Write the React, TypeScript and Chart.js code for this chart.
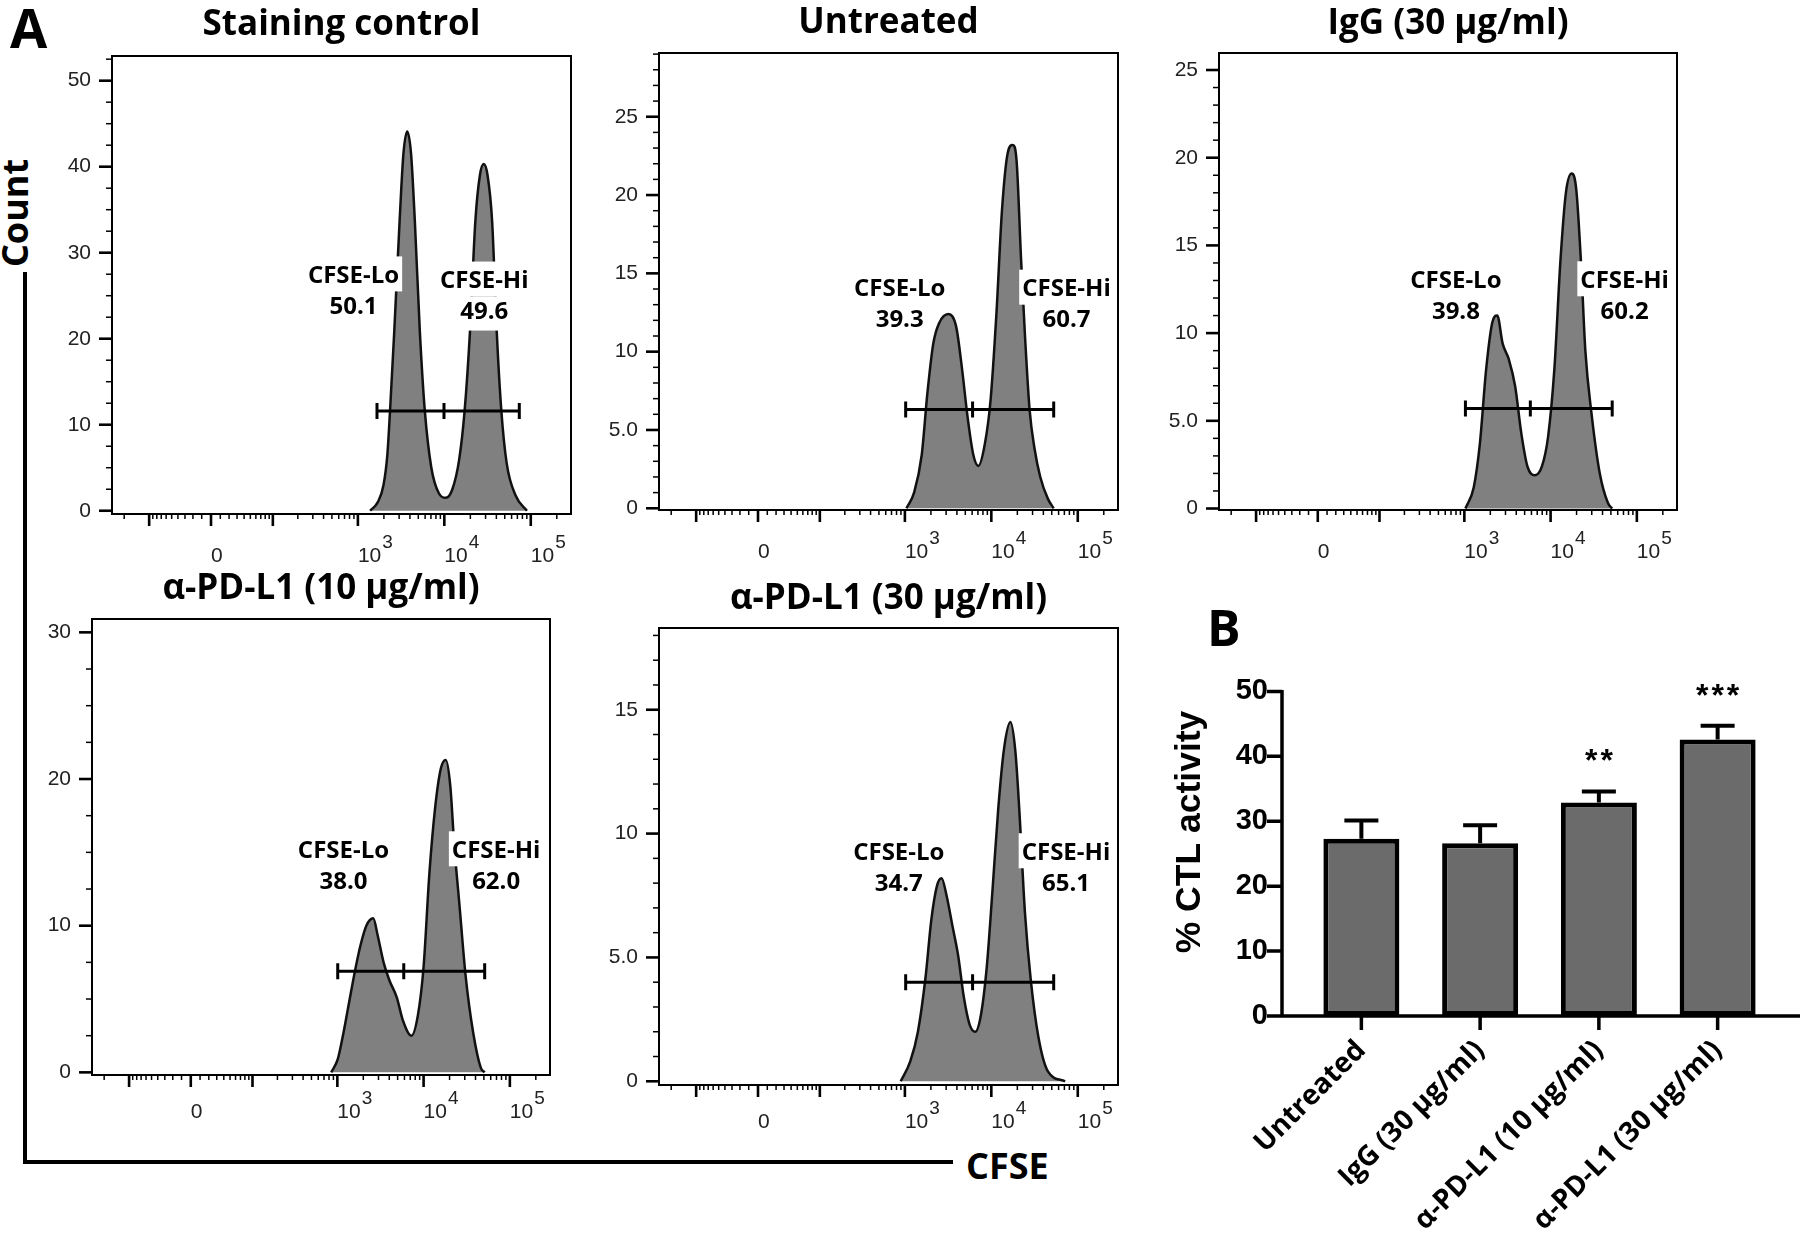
import React, { useEffect, useRef } from 'react';
import { Chart, registerables, LinearScale } from 'chart.js';

Chart.register(...registerables);

// ---------------- data ----------------
const X_MIN = -278;
const X_MAX = 292000;
const X_TICK_VALUES = [0, 1000, 10000, 100000];
const X_TICK_LABELS = ['0', '10³', '10⁴', '10⁵'];
const X_MAJOR_MARKS = [-100, 0, 100, 1000, 10000, 100000];
const X_MINOR_MARKS = [
  -200, -90, -80, -70, -60, -50, -40, -30, -20, -10, 10, 20, 30, 40, 50, 60, 70, 80, 90,
  200, 300, 400, 500, 600, 700, 800, 900, 2000, 3000, 4000, 5000, 6000, 7000, 8000, 9000,
  20000, 30000, 40000, 50000, 60000, 70000, 80000, 90000, 200000,
];

const P1_TITLE = 'Staining control';
const P1_X = [1386, 1700, 1980, 2192, 2354, 2634, 3036, 3364, 3724, 4124, 4564, 5212, 5950, 7076, 8676, 10420, 12390, 14880, 17170, 19800, 22830, 25800, 28570, 31630, 35750, 40410, 45670, 52670, 66570, 90340];
const P1_Y = [0, 1.0, 3.0, 6.5, 11.6, 20.8, 33.6, 41.5, 44.1, 41.5, 33.6, 20.8, 11.6, 5.0, 2.0, 1.5, 2.5, 6.0, 11.6, 20.8, 33.6, 39.0, 40.3, 39.0, 33.6, 20.8, 11.6, 5.5, 1.8, 0];
const P1_GATE = [1664, 9910, 73660];
const P1_GATE_Y = 11.6;
const P1_LO = ['CFSE-Lo', '50.1'];
const P1_HI = ['CFSE-Hi', '49.6'];

const P2_TITLE = 'Untreated';
const P2_X = [1042, 1277, 1566, 1825, 2128, 2478, 3196, 3920, 4561, 5321, 6197, 7075, 8415, 9801, 11420, 13310, 15500, 17700, 19590, 22130, 24520, 27710, 31630, 36830, 45170, 52620];
const P2_Y = [0, 1.0, 3.4, 7.4, 10.5, 11.8, 12.4, 11.6, 9.0, 5.8, 3.4, 2.7, 4.1, 6.9, 12.3, 19.1, 22.7, 23.2, 22.2, 15.8, 11.0, 6.3, 3.8, 2.0, 0.6, 0];
const P2_GATE = [1021, 6070, 52660];
const P2_GATE_Y = 6.3;
const P2_LO = ['CFSE-Lo', '39.3'];
const P2_HI = ['CFSE-Hi', '60.7'];

const P3_TITLE = 'IgG (30 μg/ml)';
const P3_X = [1029, 1284, 1514, 1787, 2109, 2408, 2781, 3281, 3873, 4571, 5387, 6577, 7930, 9358, 11040, 13030, 15040, 17550, 19830, 22650, 25280, 29840, 37180, 46350, 51760];
const P3_Y = [0, 1.2, 3.7, 7.9, 10.6, 11.0, 9.4, 8.5, 7.0, 4.3, 2.4, 1.9, 2.4, 4.1, 7.9, 14.2, 18.0, 19.1, 18.2, 13.8, 9.0, 5.4, 2.0, 0.3, 0];
const P3_GATE = [1029, 5822, 51780];
const P3_GATE_Y = 5.7;
const P3_LO = ['CFSE-Lo', '39.8'];
const P3_HI = ['CFSE-Hi', '60.2'];

const P4_TITLE = 'α-PD-L1 (10 μg/ml)';
const P4_X = [849, 1011, 1178, 1371, 1599, 1862, 2169, 2606, 2945, 3435, 4000, 4898, 5715, 7225, 8593, 10000, 11650, 13580, 15820, 18070, 20420, 22600, 26320, 30680, 37580, 46100, 51050];
const P4_Y = [0, 0.9, 2.7, 4.8, 6.9, 8.7, 10.0, 10.5, 9.3, 7.5, 6.3, 5.1, 3.6, 2.5, 3.9, 7.2, 13.5, 18.0, 20.7, 21.3, 19.5, 15.6, 11.1, 6.6, 2.7, 0.3, 0];
const P4_GATE = [1010, 5888, 51060];
const P4_GATE_Y = 6.9;
const P4_LO = ['CFSE-Lo', '38.0'];
const P4_HI = ['CFSE-Hi', '62.0'];

const P5_TITLE = 'α-PD-L1 (30 μg/ml)';
const P5_X = [894, 1154, 1415, 1734, 2019, 2354, 2661, 3035, 3538, 4123, 4806, 5598, 6521, 7599, 8851, 10310, 12020, 14000, 16640, 19000, 21040, 24500, 28580, 35000, 45170, 71450];
const P5_Y = [0, 0.8, 2.0, 4.2, 6.5, 7.9, 8.2, 7.5, 6.3, 5.1, 3.4, 2.3, 2.0, 2.7, 4.6, 7.7, 11.0, 13.4, 14.5, 13.3, 11.0, 6.8, 4.1, 1.8, 0.4, 0];
const P5_GATE = [1021, 6070, 52660];
const P5_GATE_Y = 4.0;
const P5_LO = ['CFSE-Lo', '34.7'];
const P5_HI = ['CFSE-Hi', '65.1'];

const B_CATS = ['Untreated', 'IgG (30 μg/ml)', 'α-PD-L1 (10 μg/ml)', 'α-PD-L1 (30 μg/ml)'];
const B_MEAN = [27.3, 26.6, 32.9, 42.6];
const B_ERR = [2.8, 2.8, 1.7, 2.1];
const B_SIG = ['', '', '**', '***'];
const B_Y_TICKS = [0, 10, 20, 30, 40, 50];
const B_Y_TITLE = '% CTL activity';

// ---------------- biexponential scale ----------------
const LN10 = Math.log(10);
const BIEX_W = 40;
const biexT = (v: number) => Math.asinh(v / BIEX_W) / LN10;

class BiexScale extends LinearScale {
  static id = 'biex';
  static defaults = {};
  buildTicks() {
    return X_TICK_VALUES.map((v) => ({ value: v }));
  }
  configure() {
    super.configure();
    (this as any)._tMin = biexT(this.min);
    (this as any)._tMax = biexT(this.max);
  }
  getPixelForValue(value: number) {
    const a = (this as any)._tMin;
    const b = (this as any)._tMax;
    return this.getPixelForDecimal((biexT(value) - a) / (b - a));
  }
  getValueForPixel(pixel: number) {
    const a = (this as any)._tMin;
    const b = (this as any)._tMax;
    const t = a + this.getDecimalForPixel(pixel) * (b - a);
    return BIEX_W * Math.sinh(t * LN10);
  }
}
Chart.register(BiexScale as any);

// ---------------- layout ----------------
const SANS = '"Liberation Sans", Arial, sans-serif';
const TICK_FONT = { family: SANS, size: 21 };
const BOLD = '"Open Sans", "Noto Sans", sans-serif';
const SUP: Record<string, string> = { '⁰': '0', '¹': '1', '²': '2', '³': '3', '⁴': '4', '⁵': '5', '⁶': '6', '⁷': '7', '⁸': '8', '⁹': '9' };

type Panel = {
  title: string; xs: number[]; ys: number[]; gate: number[]; gateY: number;
  lo: string[]; hi: string[];
  box: { L: number; T: number; R: number; B: number };
  titleY: number; yMin: number; yMax: number; yMajor: number; yMinor: number; fiveDec: boolean;
  xLabBase: number; loPos: [number, number]; hiPos: [number, number];
};

const PANELS: Panel[] = [
  {
    title: P1_TITLE, xs: P1_X, ys: P1_Y, gate: P1_GATE, gateY: P1_GATE_Y, lo: P1_LO, hi: P1_HI,
    box: { L: 112, T: 56, R: 571, B: 514 }, titleY: 25, yMin: -0.38, yMax: 52.87, yMajor: 10, yMinor: 2.5, fiveDec: false,
    xLabBase: 48, loPos: [890, 25.5], hiPos: [29000, 24.9],
  },
  {
    title: P2_TITLE, xs: P2_X, ys: P2_Y, gate: P2_GATE, gateY: P2_GATE_Y, lo: P2_LO, hi: P2_HI,
    box: { L: 659, T: 53, R: 1118, B: 510 }, titleY: 23, yMin: -0.11, yMax: 29.07, yMajor: 5, yMinor: 1, fiveDec: true,
    xLabBase: 48, loPos: [870, 13.0], hiPos: [74000, 13.0],
  },
  {
    title: P3_TITLE, xs: P3_X, ys: P3_Y, gate: P3_GATE, gateY: P3_GATE_Y, lo: P3_LO, hi: P3_HI,
    box: { L: 1219, T: 53, R: 1677, B: 510 }, titleY: 24, yMin: -0.085, yMax: 25.97, yMajor: 5, yMinor: 1, fiveDec: true,
    xLabBase: 48, loPos: [798, 12.1], hiPos: [72100, 12.1],
  },
  {
    title: P4_TITLE, xs: P4_X, ys: P4_Y, gate: P4_GATE, gateY: P4_GATE_Y, lo: P4_LO, hi: P4_HI,
    box: { L: 92, T: 619, R: 550, B: 1075 }, titleY: 589, yMin: -0.18, yMax: 30.91, yMajor: 10, yMinor: 2.5, fiveDec: false,
    xLabBase: 43, loPos: [1178, 14.05], hiPos: [69340, 14.05],
  },
  {
    title: P5_TITLE, xs: P5_X, ys: P5_Y, gate: P5_GATE, gateY: P5_GATE_Y, lo: P5_LO, hi: P5_HI,
    box: { L: 659, T: 628, R: 1118, B: 1085 }, titleY: 599, yMin: -0.15, yMax: 18.3, yMajor: 5, yMinor: 1, fiveDec: true,
    xLabBase: 43, loPos: [850, 8.6], hiPos: [73000, 8.6],
  },
];

const Y_AXIS_W = 80;
const X_AXIS_H = 64;
const TITLE_H = 56;
const TITLE_SIZE = 35;
const PAD_R = 20;

const BAR_LEFT = 1172;
const BAR_TOP = 640;

function makeHistDecor(p: Panel) {
  return {
    id: 'histDecor',
    afterDatasetsDraw(chart: any) {
      const { ctx } = chart;
      const xs = chart.scales.x;
      const ys = chart.scales.y;
      ctx.save();
      ctx.font = `700 24px ${BOLD}`;
      ctx.textAlign = 'center';
      ctx.textBaseline = 'middle';
      const LH = 31;
      const labs: [string[], [number, number]][] = [[p.lo, p.loPos], [p.hi, p.hiPos]];
      for (const [text, pos] of labs) {
        const cx = xs.getPixelForValue(pos[0]);
        const cy = ys.getPixelForValue(pos[1]);
        text.forEach((s, k) => {
          const w = ctx.measureText(s).width;
          const ly = cy + (k === 0 ? -LH / 2 : LH / 2);
          ctx.fillStyle = '#fff';
          ctx.fillRect(cx - w / 2 - 3, ly - LH / 2 - (k === 0 ? 4 : 0), w + 6, LH + (k === 0 ? 4 : 3));
          ctx.fillStyle = '#000';
          ctx.fillText(s, cx, ly);
        });
      }
      const gy = ys.getPixelForValue(p.gateY);
      const gx = p.gate.map((v) => xs.getPixelForValue(v));
      ctx.strokeStyle = '#000';
      ctx.lineWidth = 3;
      ctx.beginPath();
      ctx.moveTo(gx[0], gy);
      ctx.lineTo(gx[2], gy);
      for (const x of gx) {
        ctx.moveTo(x, gy - 8);
        ctx.lineTo(x, gy + 8);
      }
      ctx.stroke();
      ctx.restore();
    },
    afterDraw(chart: any) {
      const { ctx, chartArea: ca } = chart;
      const xs = chart.scales.x;
      const ys = chart.scales.y;
      ctx.save();
      ctx.strokeStyle = '#000';
      ctx.lineWidth = 2;
      ctx.strokeRect(ca.left, ca.top, ca.right - ca.left, ca.bottom - ca.top);
      // y ticks
      const n = Math.floor(p.yMax / p.yMinor + 1e-6);
      for (let i = 0; i <= n; i++) {
        const v = i * p.yMinor;
        const major = Math.abs(v / p.yMajor - Math.round(v / p.yMajor)) < 1e-6;
        const py = ys.getPixelForValue(v);
        ctx.lineWidth = major ? 2.6 : 1.5;
        ctx.beginPath();
        ctx.moveTo(ca.left - (major ? 13 : 6), py);
        ctx.lineTo(ca.left, py);
        ctx.stroke();
      }
      // x ticks
      const drawX = (vals: number[], len: number, lw: number) => {
        ctx.lineWidth = lw;
        ctx.beginPath();
        for (const v of vals) {
          const px = xs.getPixelForValue(v);
          if (px < ca.left + 1 || px > ca.right - 1) continue;
          ctx.moveTo(px, ca.bottom);
          ctx.lineTo(px, ca.bottom + len);
        }
        ctx.stroke();
      };
      drawX(X_MINOR_MARKS, 5, 1.5);
      drawX(X_MAJOR_MARKS, 12, 2.6);
      // x tick labels: base + raised exponent, left-aligned at the tick
      ctx.fillStyle = '#222';
      ctx.textAlign = 'left';
      ctx.textBaseline = 'alphabetic';
      const baseY = ca.bottom + p.xLabBase;
      X_TICK_VALUES.forEach((v, i) => {
        const label = X_TICK_LABELS[i];
        const px = xs.getPixelForValue(v);
        let base = '';
        let exp = '';
        for (const ch of label) {
          if (SUP[ch] !== undefined) exp += SUP[ch];
          else base += ch;
        }
        ctx.font = `21px ${SANS}`;
        ctx.fillText(base, px, baseY);
        if (exp) {
          const w = ctx.measureText(base).width;
          ctx.font = `19px ${SANS}`;
          ctx.fillText(exp, px + w + 1, baseY - 14);
        }
      });
      ctx.restore();
    },
  };
}

function histConfig(p: Panel): any {
  const lh = TITLE_SIZE * 1.2;
  const padTop = p.titleY - (p.box.T - TITLE_H) - lh / 2;
  return {
    type: 'line',
    data: {
      datasets: [
        {
          data: p.xs.map((x, i) => ({ x, y: p.ys[i] })),
          fill: 'origin',
          backgroundColor: '#808080',
          borderColor: '#111',
          borderWidth: 2.5,
          pointRadius: 0,
          cubicInterpolationMode: 'monotone',
        },
      ],
    },
    options: {
      responsive: false,
      animation: false,
      devicePixelRatio: 1,
      layout: { padding: { left: 0, right: PAD_R, top: 0, bottom: 0 } },
      plugins: {
        legend: { display: false },
        tooltip: { enabled: false },
        title: {
          display: true,
          text: p.title,
          fullSize: false,
          color: '#000',
          font: { family: BOLD, weight: '700', size: TITLE_SIZE, lineHeight: 1.2 },
          padding: { top: padTop, bottom: TITLE_H - lh - padTop },
        },
      },
      scales: {
        x: {
          type: 'biex',
          min: X_MIN,
          max: X_MAX,
          grid: { display: false, drawTicks: false },
          border: { display: false },
          ticks: {
            display: false,
            autoSkip: false,
            maxRotation: 0,
            minRotation: 0,
            callback: (_v: any, i: number) => X_TICK_LABELS[i],
          },
          afterFit: (s: any) => {
            s.height = X_AXIS_H;
          },
        },
        y: {
          type: 'linear',
          min: p.yMin,
          max: p.yMax,
          bounds: 'data',
          grid: { display: false, drawTicks: false },
          border: { display: false },
          ticks: {
            padding: 21,
            color: '#222',
            font: TICK_FONT,
            callback: (v: number) => (p.fiveDec && v === 5 ? '5.0' : String(v)),
          },
          afterBuildTicks: (s: any) => {
            const t = [];
            for (let v = 0; v <= p.yMax + 1e-6; v += p.yMajor) t.push({ value: v });
            s.ticks = t;
          },
          afterFit: (s: any) => {
            s.width = Y_AXIS_W;
          },
        },
      },
    },
    plugins: [makeHistDecor(p)],
  };
}

const barDecor = {
  id: 'barDecor',
  afterDatasetsDraw(chart: any) {
    const { ctx } = chart;
    const ys = chart.scales.y;
    const meta = chart.getDatasetMeta(0);
    ctx.save();
    ctx.strokeStyle = '#000';
    ctx.fillStyle = '#000';
    ctx.lineWidth = 4;
    meta.data.forEach((el: any, i: number) => {
      const x = el.x;
      const yTop = ys.getPixelForValue(B_MEAN[i]);
      const yE = ys.getPixelForValue(B_MEAN[i] + B_ERR[i]);
      ctx.beginPath();
      ctx.moveTo(x, yTop);
      ctx.lineTo(x, yE);
      ctx.moveTo(x - 17, yE);
      ctx.lineTo(x + 17, yE);
      ctx.stroke();
      if (B_SIG[i]) {
        ctx.font = `700 32px ${SANS}`;
        ctx.textAlign = 'center';
        ctx.textBaseline = 'alphabetic';
        (ctx as any).letterSpacing = '3px';
        ctx.fillText(B_SIG[i], x + 1.5, yE - 20);
      }
    });
    ctx.restore();
  },
  afterDraw(chart: any) {
    const { ctx, chartArea: ca } = chart;
    const ys = chart.scales.y;
    const meta = chart.getDatasetMeta(0);
    const x0 = ca.left - 20;
    ctx.save();
    ctx.strokeStyle = '#000';
    ctx.lineWidth = 3.5;
    ctx.beginPath();
    ctx.moveTo(x0, ys.getPixelForValue(50) - 1.5);
    ctx.lineTo(x0, ca.bottom + 1.5);
    ctx.moveTo(x0, ca.bottom);
    ctx.lineTo(chart.width, ca.bottom);
    for (const v of B_Y_TICKS) {
      const py = ys.getPixelForValue(v);
      ctx.moveTo(x0 - 15, py);
      ctx.lineTo(x0, py);
    }
    meta.data.forEach((el: any) => {
      ctx.moveTo(el.x, ca.bottom);
      ctx.lineTo(el.x, ca.bottom + 14);
    });
    ctx.stroke();
    // y axis title
    ctx.fillStyle = '#000';
    ctx.font = `700 35.5px ${SANS}`;
    ctx.textAlign = 'center';
    ctx.textBaseline = 'middle';
    ctx.translate(1190 - BAR_LEFT, 832 - BAR_TOP);
    ctx.rotate(-Math.PI / 2);
    ctx.fillText(B_Y_TITLE, 0, 0);
    ctx.restore();
  },
};

function barConfig(): any {
  return {
    type: 'bar',
    data: {
      labels: B_CATS,
      datasets: [
        {
          data: B_MEAN,
          backgroundColor: '#6b6b6b',
          borderColor: '#000',
          borderWidth: 5,
          borderSkipped: false,
          barPercentage: 0.64,
          categoryPercentage: 1,
        },
      ],
    },
    options: {
      responsive: false,
      animation: false,
      devicePixelRatio: 1,
      layout: { padding: { left: 0, right: 23, top: 35, bottom: 0 } },
      plugins: { legend: { display: false }, tooltip: { enabled: false } },
      scales: {
        x: {
          grid: { display: false, drawTicks: false },
          border: { display: false },
          ticks: {
            autoSkip: false,
            maxRotation: 45,
            minRotation: 45,
            padding: 18,
            color: '#000',
            font: { family: BOLD, weight: '700', size: 28 },
          },
          afterFit: (s: any) => {
            s.height = 231;
          },
        },
        y: {
          min: 0,
          max: 50,
          grid: { display: false, drawTicks: false },
          border: { display: false },
          ticks: {
            stepSize: 10,
            padding: 34,
            color: '#000',
            font: { family: SANS, weight: '700', size: 29 },
          },
          afterFit: (s: any) => {
            s.width = 130;
          },
        },
      },
    },
    plugins: [barDecor],
  };
}

function ChartBox(props: { left: number; top: number; width: number; height: number; make: () => any }) {
  const ref = useRef<HTMLCanvasElement | null>(null);
  useEffect(() => {
    const chart = new Chart(ref.current as HTMLCanvasElement, props.make());
    return () => chart.destroy();
  }, []);
  return (
    <canvas
      ref={ref}
      width={props.width}
      height={props.height}
      style={{ position: 'absolute', left: props.left, top: props.top, width: props.width, height: props.height }}
    />
  );
}

const textStyle = (size: number): React.CSSProperties => ({
  position: 'absolute',
  fontFamily: BOLD,
  fontWeight: 700,
  fontSize: size,
  lineHeight: 1,
  color: '#000',
  whiteSpace: 'nowrap',
});

export default function App() {
  return (
    <div style={{ position: 'absolute', left: 0, top: 0, width: 1800, height: 1247, background: '#fff', overflow: 'hidden' }}>
      <div style={{ ...textStyle(54), left: 10, top: 0 }}>A</div>
      <div style={{ ...textStyle(50), left: 1207, top: 602 }}>B</div>
      <div style={{ ...textStyle(36), left: 15, top: 213, transform: 'translate(-50%, -50%) rotate(-90deg)' }}>Count</div>
      <div style={{ position: 'absolute', left: 23, top: 272, width: 4, height: 892, background: '#000' }} />
      <div style={{ position: 'absolute', left: 23, top: 1160, width: 930, height: 4, background: '#000' }} />
      <div style={{ ...textStyle(36), left: 966, top: 1148 }}>CFSE</div>
      {PANELS.map((p, i) => (
        <ChartBox
          key={i}
          left={p.box.L - Y_AXIS_W}
          top={p.box.T - TITLE_H}
          width={p.box.R - p.box.L + Y_AXIS_W + PAD_R}
          height={p.box.B - p.box.T + TITLE_H + X_AXIS_H}
          make={() => histConfig(p)}
        />
      ))}
      <ChartBox left={BAR_LEFT} top={BAR_TOP} width={628} height={607} make={barConfig} />
    </div>
  );
}
